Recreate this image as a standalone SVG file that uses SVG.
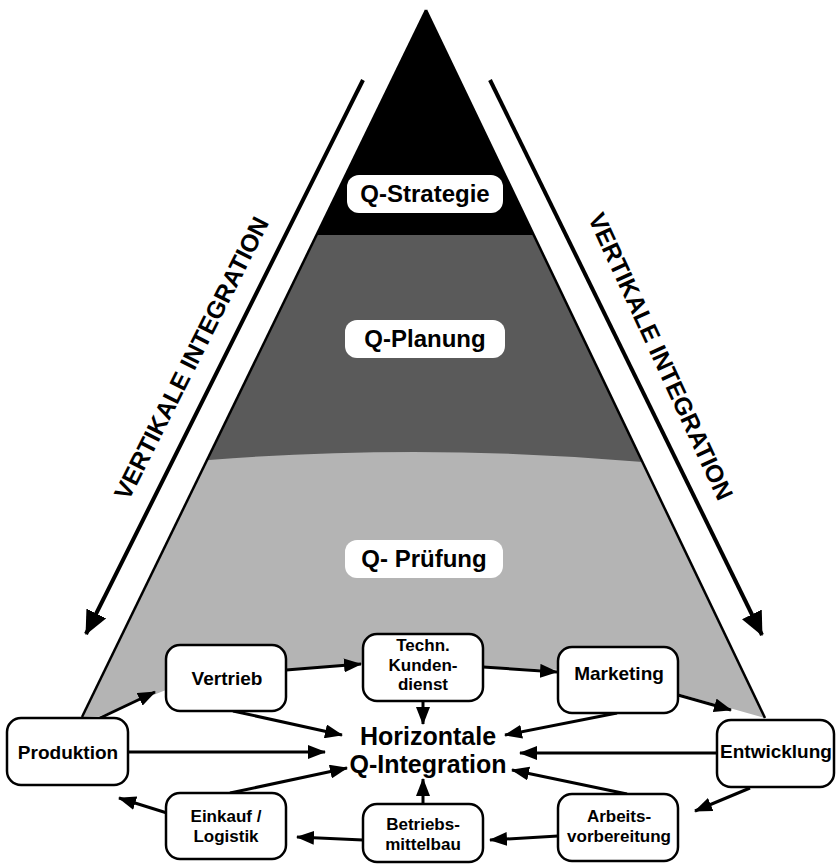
<svg xmlns="http://www.w3.org/2000/svg" width="836" height="865" viewBox="0 0 836 865">
<style>
text{font-family:"Liberation Sans",Arial,sans-serif;font-weight:bold;fill:#000}
.box{fill:#fff;stroke:#000;stroke-width:2.5}
.pill{fill:#fff;stroke:none}
.bt{font-size:19px;text-anchor:middle}
.bm{font-size:17px;text-anchor:middle}
.pt{font-size:24px;text-anchor:middle}
.ht{font-size:25px;text-anchor:middle}
.vt{font-size:24.5px;text-anchor:middle}
.c{stroke:#000;stroke-width:3;fill:none;marker-end:url(#ah)}
.v{stroke:#000;stroke-width:4;fill:none;marker-end:url(#bh)}
</style>
<defs>
<marker id="ah" markerUnits="userSpaceOnUse" markerWidth="18" markerHeight="14" refX="17" refY="7" orient="auto"><path d="M0,0 L18,7 L0,14 Z" fill="#000"/></marker>
<marker id="bh" markerUnits="userSpaceOnUse" markerWidth="24" markerHeight="22" refX="23" refY="11" orient="auto"><path d="M0,0 L24,11 L0,22 Z" fill="#000"/></marker>
<clipPath id="pyr"><polygon points="426,10 765,718 680,694 618,672 483,667 423,665 363,664 286,670 226,680 166,690 100,716 82,717"/></clipPath>
</defs>
<g id="pyramid" clip-path="url(#pyr)">
<rect x="0" y="0" width="836" height="865" fill="#b4b4b4"/>
<path d="M150,235 H710 V470 L643,462 Q426,443 209,460 L150,470 Z" fill="#5a5a5a"/>
<rect x="0" y="0" width="836" height="235" fill="#000"/>
</g>
<g id="pyramid-edges" stroke="#000" stroke-width="2.5" fill="none">
<line x1="426" y1="10" x2="82" y2="717"/>
<line x1="426" y1="10" x2="765" y2="718"/>
</g>
<g id="q-strategie"><rect class="pill" x="347" y="175" width="156" height="38" rx="12"/><text class="pt" x="425" y="202">Q-Strategie</text></g>
<g id="q-planung"><rect class="pill" x="345" y="320" width="160" height="38" rx="12"/><text class="pt" x="425" y="347">Q-Planung</text></g>
<g id="q-pruefung"><rect class="pill" x="345" y="540" width="158" height="38" rx="12"/><text class="pt" x="424" y="567">Q- Prüfung</text></g>
<g id="vertical-left"><line class="v" x1="363" y1="80" x2="86" y2="634"/><text class="vt" transform="translate(199,362) rotate(-63.2)">VERTIKALE INTEGRATION</text></g>
<g id="vertical-right"><line class="v" x1="490" y1="80" x2="762" y2="635"/><text class="vt" transform="translate(653,360) rotate(65.3)">VERTIKALE INTEGRATION</text></g>
<g id="connectors">
<line class="c" x1="100" y1="718" x2="155" y2="692"/>
<line class="c" x1="286" y1="670" x2="361" y2="664"/>
<line class="c" x1="483" y1="667" x2="557" y2="672"/>
<line class="c" x1="678" y1="695" x2="731" y2="710"/>
<line class="c" x1="423" y1="701" x2="423" y2="724"/>
<line class="c" x1="233" y1="711" x2="342" y2="735"/>
<line class="c" x1="128" y1="752" x2="325" y2="752"/>
<line class="c" x1="230" y1="793" x2="347" y2="768"/>
<line class="c" x1="617" y1="713" x2="505" y2="735"/>
<line class="c" x1="717" y1="753" x2="520" y2="753"/>
<line class="c" x1="627" y1="794" x2="512" y2="770"/>
<line class="c" x1="423" y1="804" x2="423" y2="779"/>
<line class="c" x1="750" y1="788" x2="695" y2="811"/>
<line class="c" x1="558" y1="836" x2="490" y2="840"/>
<line class="c" x1="363" y1="840" x2="297" y2="837"/>
<line class="c" x1="167" y1="813" x2="119" y2="798"/>
</g>
<g id="horizontale"><text class="ht"><tspan x="428" y="745">Horizontale</tspan><tspan x="428" y="773">Q-Integration</tspan></text></g>
<g id="produktion"><rect class="box" x="7" y="718" width="121" height="67" rx="14"/><text class="bt" x="68" y="759">Produktion</text></g>
<g id="vertrieb"><rect class="box" x="166" y="645" width="120" height="66" rx="14"/><text class="bt" x="227" y="685">Vertrieb</text></g>
<g id="techn-kundendienst"><rect class="box" x="363" y="634" width="120" height="67" rx="14"/><text class="bm"><tspan x="423" y="651">Techn.</tspan><tspan x="423" y="670.5">Kunden-</tspan><tspan x="423" y="690">dienst</tspan></text></g>
<g id="marketing"><rect class="box" x="558" y="647" width="120" height="66" rx="14"/><text class="bt" x="619" y="680">Marketing</text></g>
<g id="entwicklung"><rect class="box" x="717" y="720" width="117" height="67" rx="14"/><text class="bt" x="776" y="758">Entwicklung</text></g>
<g id="arbeitsvorbereitung"><rect class="box" x="558" y="794" width="120" height="67" rx="14"/><text class="bm"><tspan x="619" y="822">Arbeits-</tspan><tspan x="619" y="841.5">vorbereitung</tspan></text></g>
<g id="betriebsmittelbau"><rect class="box" x="363" y="804" width="120" height="58" rx="14"/><text class="bm"><tspan x="423" y="830">Betriebs-</tspan><tspan x="423" y="849.5">mittelbau</tspan></text></g>
<g id="einkauf-logistik"><rect class="box" x="166" y="793" width="120" height="66" rx="14"/><text class="bm"><tspan x="226" y="822">Einkauf /</tspan><tspan x="226" y="841.5">Logistik</tspan></text></g>
</svg>
